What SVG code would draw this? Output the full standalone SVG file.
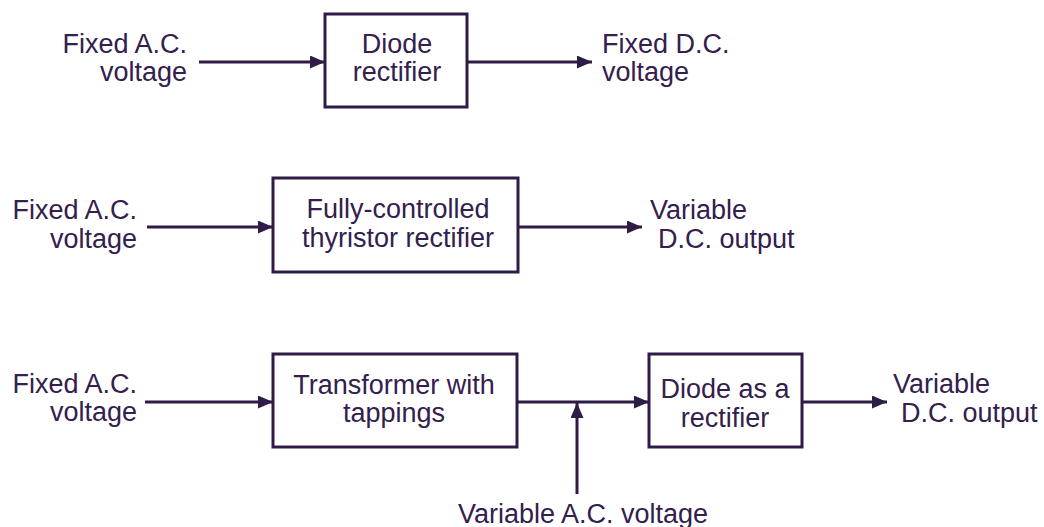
<svg xmlns="http://www.w3.org/2000/svg" width="1044" height="527" viewBox="0 0 1044 527">
<style>
.box{fill:#fff;stroke:#2e1c47;stroke-width:3}
.ln{fill:none;stroke:#2e1c47;stroke-width:3;marker-end:url(#ah)}
text{font-family:"Liberation Sans",Arial,sans-serif;font-size:27px;fill:#33204d}
.c{text-anchor:middle}
.r{text-anchor:end}
</style>
<defs>
<marker id="ah" viewBox="0 0 15 13" refX="15" refY="6.5" markerWidth="15" markerHeight="13" markerUnits="userSpaceOnUse" orient="auto">
<path d="M0,0 L15,6.5 L0,13 z" fill="#2e1c47"/>
</marker>
</defs>
<rect width="1044" height="527" fill="#fff"/>
<g id="connectors">
<line class="ln" x1="199" y1="62" x2="325" y2="62"/>
<line class="ln" x1="467" y1="62" x2="592" y2="62"/>
<line class="ln" x1="147" y1="227" x2="273" y2="227"/>
<line class="ln" x1="518" y1="227" x2="642" y2="227"/>
<line class="ln" x1="145" y1="402" x2="273" y2="402"/>
<line class="ln" x1="517" y1="402" x2="649" y2="402"/>
<line class="ln" x1="577" y1="494" x2="577" y2="403"/>
<line class="ln" x1="802" y1="402" x2="887" y2="402"/>
</g>
<g id="in1"><text class="r" x="187" y="53">Fixed A.C.</text><text class="r" x="187" y="81">voltage</text></g>
<g id="diode-rectifier"><rect class="box" x="325" y="14" width="142" height="93"/><text class="c" x="397" y="53">Diode</text><text class="c" x="397" y="81">rectifier</text></g>
<g id="out1"><text x="602" y="53">Fixed D.C.</text><text x="602" y="81">voltage</text></g>
<g id="in2"><text class="r" x="137" y="219">Fixed A.C.</text><text class="r" x="137" y="248">voltage</text></g>
<g id="thyristor-rectifier"><rect class="box" x="273" y="178" width="245" height="94"/><text class="c" x="398" y="218">Fully-controlled</text><text class="c" x="398" y="247">thyristor rectifier</text></g>
<g id="out2"><text x="650" y="219">Variable</text><text x="658" y="248">D.C. output</text></g>
<g id="in3"><text class="r" x="137" y="393">Fixed A.C.</text><text class="r" x="137" y="421">voltage</text></g>
<g id="transformer"><rect class="box" x="273" y="354" width="244" height="93"/><text class="c" x="394" y="394">Transformer with</text><text class="c" x="394" y="422">tappings</text></g>
<g id="diode-as-rectifier"><rect class="box" x="649" y="354" width="153" height="93"/><text class="c" x="725" y="398">Diode as a</text><text class="c" x="725" y="427">rectifier</text></g>
<g id="out3"><text x="893" y="393">Variable</text><text x="901" y="422">D.C. output</text></g>
<g id="var-ac"><text class="c" x="583" y="523">Variable A.C. voltage</text></g>
</svg>
